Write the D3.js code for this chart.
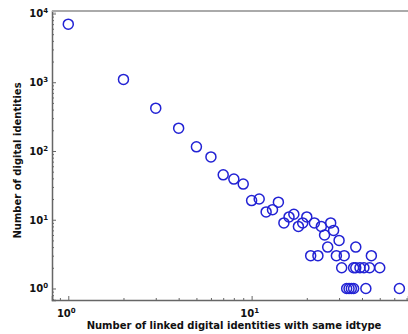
<!DOCTYPE html>
<html>
<head>
<meta charset="utf-8">
<script src="https://cdn.jsdelivr.net/npm/d3@7/dist/d3.min.js"></script>
<style>
  html, body { margin: 0; padding: 0; background: #fff; }
  svg { display: block; }
  text { font-family: "DejaVu Sans", sans-serif; font-weight: bold; fill: #111; }
</style>
</head>
<body>
<svg id="chart" width="408" height="334"></svg>
<script>
// Data: number of linked identities (x) vs number of digital identities (y)
const linkedCounts = [1, 2, 3, 4, 5, 6, 7, 8, 9, 10, 11, 12, 13, 14, 15, 16, 17, 18, 19, 20,
  22, 24, 25, 26, 27, 28, 30, 37, 21, 23, 29, 32, 45, 31, 36, 37, 39, 41, 44, 50,
  33, 34, 35, 36, 42, 64];
const identityCounts = [7000, 1100, 420, 215, 115, 82, 45, 39, 33, 19, 20, 13, 14, 18, 9, 11, 12, 8, 9, 11,
  9, 8, 6, 4, 9, 7, 5, 4, 3, 3, 3, 3, 3, 2, 2, 2, 2, 2, 2, 2,
  1, 1, 1, 1, 1, 1];
const xTickExponents = [0, 1];
const yTickExponents = [0, 1, 2, 3, 4];
const xTitle = "Number of linked digital identities with same idtype";
const yTitle = "Number of digital identities";

(function () {
const points = linkedCounts.map((v, i) => ({ x: v, y: identityCounts[i] }));

const svg = d3.select("#chart");
const mLeft = 52, mRight = 408, mTop = 11, mBottom = 300;

const x = d3.scaleLog().domain([0.815, 71.3]).range([mLeft, mRight]);
const y = d3.scaleLog().domain([0.68, 10870]).range([mBottom, mTop]);

function minorTicks(scale) {
  const [a, b] = scale.domain();
  const out = [];
  for (let e = Math.floor(Math.log10(a)); e <= Math.ceil(Math.log10(b)); e++) {
    for (let m = 2; m <= 9; m++) {
      const v = m * Math.pow(10, e);
      if (v >= a && v <= b) out.push(v);
    }
  }
  return out;
}

const spine = "#666";

// minor ticks
svg.append("g").attr("transform", `translate(${mLeft},0)`)
  .call(d3.axisLeft(y).tickValues(minorTicks(y)).tickSize(-2).tickFormat(""))
  .call(g => g.select(".domain").remove())
  .selectAll("line").attr("stroke", spine);
svg.append("g").attr("transform", `translate(0,${mBottom})`)
  .call(d3.axisBottom(x).tickValues(minorTicks(x)).tickSize(-2).tickFormat(""))
  .call(g => g.select(".domain").remove())
  .selectAll("line").attr("stroke", spine);

// major ticks
const yAxis = svg.append("g").attr("transform", `translate(${mLeft},0)`)
  .call(d3.axisLeft(y).tickValues(yTickExponents.map(e => Math.pow(10, e))).tickSize(-4).tickFormat(""));
yAxis.select(".domain").attr("stroke", spine).attr("stroke-width", 1.5);
yAxis.selectAll("line").attr("stroke", spine);
const xAxis = svg.append("g").attr("transform", `translate(0,${mBottom})`)
  .call(d3.axisBottom(x).tickValues(xTickExponents.map(e => Math.pow(10, e))).tickSize(-4).tickFormat(""));
xAxis.select(".domain").attr("stroke", spine).attr("stroke-width", 1.5);
xAxis.selectAll("line").attr("stroke", spine);

// top spine
svg.append("line").attr("x1", mLeft).attr("x2", mRight).attr("y1", mTop).attr("y2", mTop)
  .attr("stroke", "#aaa").attr("stroke-width", 2);

// tick labels
yTickExponents.forEach(e => {
  const t = svg.append("text").attr("x", 48).attr("y", y(Math.pow(10, e)) + 4)
    .attr("text-anchor", "end").attr("font-size", 10);
  t.append("tspan").text("10");
  t.append("tspan").attr("dy", -4).attr("font-size", 7).text(e);
});
xTickExponents.forEach(e => {
  const t = svg.append("text").attr("x", x(Math.pow(10, e)) - 2).attr("y", mBottom + 17)
    .attr("text-anchor", "middle").attr("font-size", 10);
  t.append("tspan").text("10");
  t.append("tspan").attr("dy", -4).attr("font-size", 7).text(e);
});

// axis titles
svg.append("text").attr("x", 234).attr("y", 329).attr("text-anchor", "middle")
  .attr("font-size", 10).text(xTitle);
svg.append("text").attr("transform", `translate(21,${(mTop + mBottom) / 2 + 5}) rotate(-90)`)
  .attr("text-anchor", "middle").attr("font-size", 10).text(yTitle);

// points
svg.append("g").selectAll("circle").data(points).join("circle")
  .attr("cx", d => x(d.x)).attr("cy", d => y(d.y)).attr("r", 5)
  .attr("fill", "none").attr("stroke", "#2222d4").attr("stroke-width", 1.5);
})();
</script>
</body>
</html>
